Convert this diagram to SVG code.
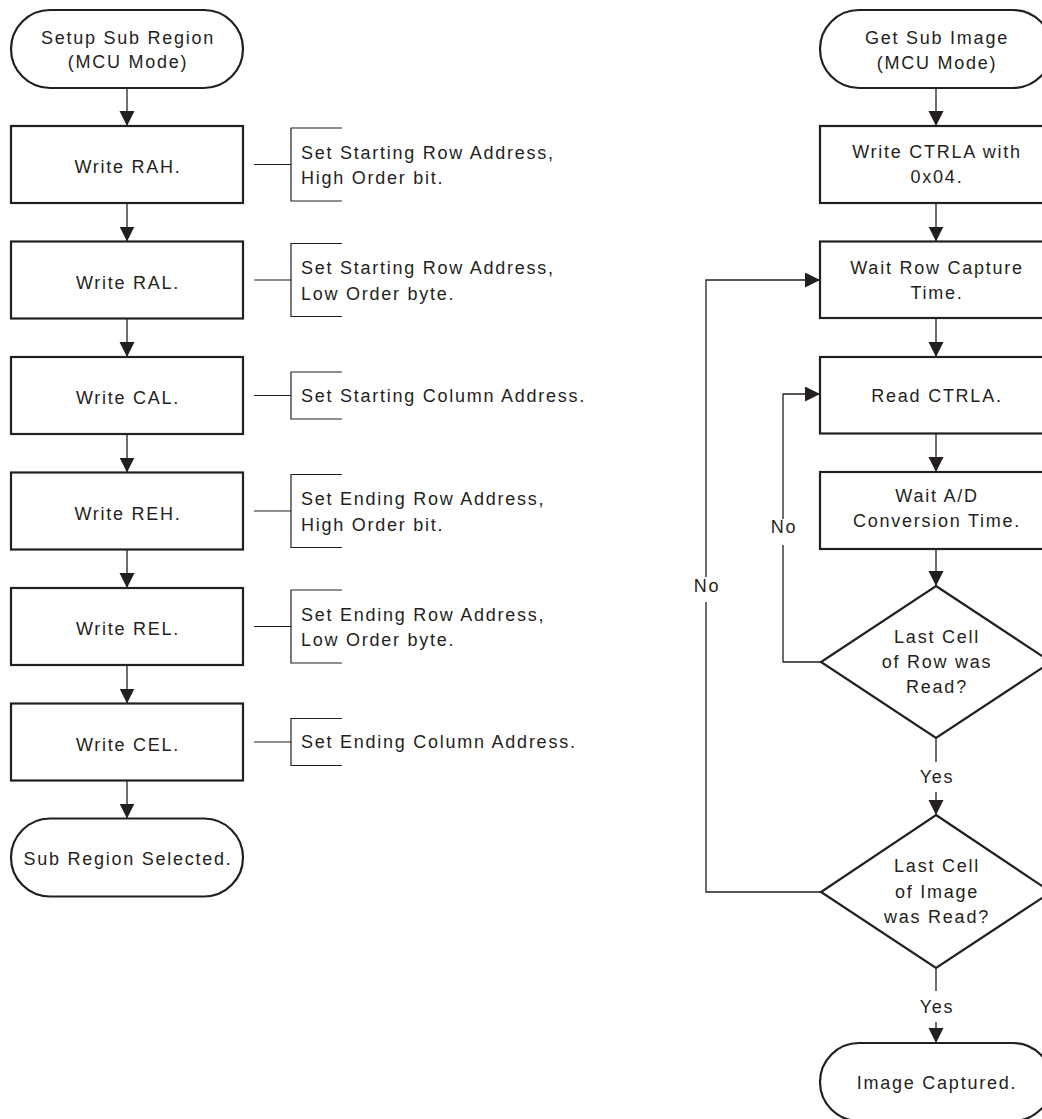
<svg xmlns="http://www.w3.org/2000/svg" width="1042" height="1119" viewBox="0 0 1042 1119">
<style>
.shape{fill:#fff;stroke:#231f20;stroke-width:2.2}
.ln{fill:none;stroke:#231f20;stroke-width:1.3}
.br{fill:none;stroke:#231f20;stroke-width:1.2}
text{font-family:"Liberation Sans",Arial,Helvetica,sans-serif;font-size:18px;letter-spacing:1.75px;fill:#231f20}
.c{text-anchor:middle}
</style>
<defs>
<marker id="ah" markerUnits="userSpaceOnUse" markerWidth="16" markerHeight="16" refX="15" refY="7.5" orient="auto">
<path d="M0,0 L15,7.5 L0,15 z" fill="#231f20"/>
</marker>
</defs>
<rect width="1042" height="1119" fill="#fff"/>

<g id="connectors">
<line class="ln" x1="127" y1="88" x2="127" y2="126" marker-end="url(#ah)"/>
<line class="ln" x1="127" y1="203" x2="127" y2="241.5" marker-end="url(#ah)"/>
<line class="ln" x1="127" y1="318.5" x2="127" y2="357" marker-end="url(#ah)"/>
<line class="ln" x1="127" y1="434" x2="127" y2="472.5" marker-end="url(#ah)"/>
<line class="ln" x1="127" y1="549.5" x2="127" y2="588" marker-end="url(#ah)"/>
<line class="ln" x1="127" y1="665" x2="127" y2="703.5" marker-end="url(#ah)"/>
<line class="ln" x1="127" y1="780.5" x2="127" y2="818.5" marker-end="url(#ah)"/>

<line class="br" x1="254" y1="164.5" x2="291" y2="164.5"/>
<path class="br" d="M342,128 H291 V201 H342"/>
<line class="br" x1="254" y1="280" x2="291" y2="280"/>
<path class="br" d="M342,243.5 H291 V316.5 H342"/>
<line class="br" x1="254" y1="395.5" x2="291" y2="395.5"/>
<path class="br" d="M342,372 H291 V419 H342"/>
<line class="br" x1="254" y1="511" x2="291" y2="511"/>
<path class="br" d="M342,474.5 H291 V547.5 H342"/>
<line class="br" x1="254" y1="626.5" x2="291" y2="626.5"/>
<path class="br" d="M342,590 H291 V663 H342"/>
<line class="br" x1="254" y1="742" x2="291" y2="742"/>
<path class="br" d="M342,718.5 H291 V765.5 H342"/>

<line class="ln" x1="936" y1="88" x2="936" y2="126" marker-end="url(#ah)"/>
<line class="ln" x1="936" y1="203" x2="936" y2="241.5" marker-end="url(#ah)"/>
<line class="ln" x1="936" y1="318" x2="936" y2="357" marker-end="url(#ah)"/>
<line class="ln" x1="936" y1="433.5" x2="936" y2="472" marker-end="url(#ah)"/>
<line class="ln" x1="936" y1="549" x2="936" y2="586" marker-end="url(#ah)"/>
<line class="ln" x1="936" y1="738" x2="936" y2="762"/>
<line class="ln" x1="936" y1="792" x2="936" y2="815" marker-end="url(#ah)"/>
<line class="ln" x1="936" y1="968" x2="936" y2="991"/>
<line class="ln" x1="936" y1="1022" x2="936" y2="1043" marker-end="url(#ah)"/>

<path class="ln" d="M821,662 H783 V545"/>
<path class="ln" d="M783,519 V394 H820" marker-end="url(#ah)"/>
<path class="ln" d="M821,892 H706 V602"/>
<path class="ln" d="M706,577 V280 H820" marker-end="url(#ah)"/>

<text class="c" x="937" y="783">Yes</text>
<text class="c" x="937" y="1013">Yes</text>
<text class="c" x="784" y="533">No</text>
<text class="c" x="707" y="592">No</text>
</g>

<g id="setup">
<rect class="shape" x="11" y="10" width="232" height="78" rx="39" ry="39"/>
<text class="c" x="128" y="43.5">Setup Sub Region</text>
<text class="c" x="128" y="68">(MCU Mode)</text>
</g>
<g id="rah">
<rect class="shape" x="11" y="126" width="232" height="77"/>
<text class="c" x="128" y="173">Write RAH.</text>
</g>
<g id="rah-note">
<text x="301" y="158.5">Set Starting Row Address,</text>
<text x="301" y="184">High Order bit.</text>
</g>
<g id="ral">
<rect class="shape" x="11" y="241.5" width="232" height="77"/>
<text class="c" x="128" y="288.5">Write RAL.</text>
</g>
<g id="ral-note">
<text x="301" y="274">Set Starting Row Address,</text>
<text x="301" y="299.5">Low Order byte.</text>
</g>
<g id="cal">
<rect class="shape" x="11" y="357" width="232" height="77"/>
<text class="c" x="128" y="404">Write CAL.</text>
</g>
<g id="cal-note">
<text x="301" y="401.5">Set Starting Column Address.</text>
</g>
<g id="reh">
<rect class="shape" x="11" y="472.5" width="232" height="77"/>
<text class="c" x="128" y="519.5">Write REH.</text>
</g>
<g id="reh-note">
<text x="301" y="505">Set Ending Row Address,</text>
<text x="301" y="530.5">High Order bit.</text>
</g>
<g id="rel">
<rect class="shape" x="11" y="588" width="232" height="77"/>
<text class="c" x="128" y="635">Write REL.</text>
</g>
<g id="rel-note">
<text x="301" y="620.5">Set Ending Row Address,</text>
<text x="301" y="646">Low Order byte.</text>
</g>
<g id="cel">
<rect class="shape" x="11" y="703.5" width="232" height="77"/>
<text class="c" x="128" y="750.5">Write CEL.</text>
</g>
<g id="cel-note">
<text x="301" y="748">Set Ending Column Address.</text>
</g>
<g id="selected">
<rect class="shape" x="11" y="818.5" width="232" height="78" rx="39" ry="39"/>
<text class="c" x="128" y="864.5">Sub Region Selected.</text>
</g>

<g id="get">
<rect class="shape" x="820" y="10" width="232" height="78" rx="39" ry="39"/>
<text class="c" x="937" y="44">Get Sub Image</text>
<text class="c" x="937" y="69">(MCU Mode)</text>
</g>
<g id="write-ctrla">
<rect class="shape" x="820" y="126" width="232" height="77"/>
<text class="c" x="937" y="158">Write CTRLA with</text>
<text class="c" x="937" y="183">0x04.</text>
</g>
<g id="wait-row">
<rect class="shape" x="820" y="241.5" width="232" height="76.5"/>
<text class="c" x="937" y="273.5">Wait Row Capture</text>
<text class="c" x="937" y="298.5">Time.</text>
</g>
<g id="read-ctrla">
<rect class="shape" x="820" y="357" width="232" height="76.5"/>
<text class="c" x="937" y="401.5">Read CTRLA.</text>
</g>
<g id="wait-ad">
<rect class="shape" x="820" y="472" width="232" height="77"/>
<text class="c" x="937" y="502">Wait A/D</text>
<text class="c" x="937" y="527">Conversion Time.</text>
</g>
<g id="row-read">
<polygon class="shape" points="936,586 1051,662 936,738 821,662"/>
<text class="c" x="937" y="643">Last Cell</text>
<text class="c" x="937" y="668">of Row was</text>
<text class="c" x="937" y="693">Read?</text>
</g>
<g id="image-read">
<polygon class="shape" points="936,815 1051,892 936,968 821,892"/>
<text class="c" x="937" y="872">Last Cell</text>
<text class="c" x="937" y="898">of Image</text>
<text class="c" x="937" y="923">was Read?</text>
</g>
<g id="captured">
<rect class="shape" x="820" y="1043" width="232" height="78" rx="39" ry="39"/>
<text class="c" x="937" y="1088.5">Image Captured.</text>
</g>
</svg>
